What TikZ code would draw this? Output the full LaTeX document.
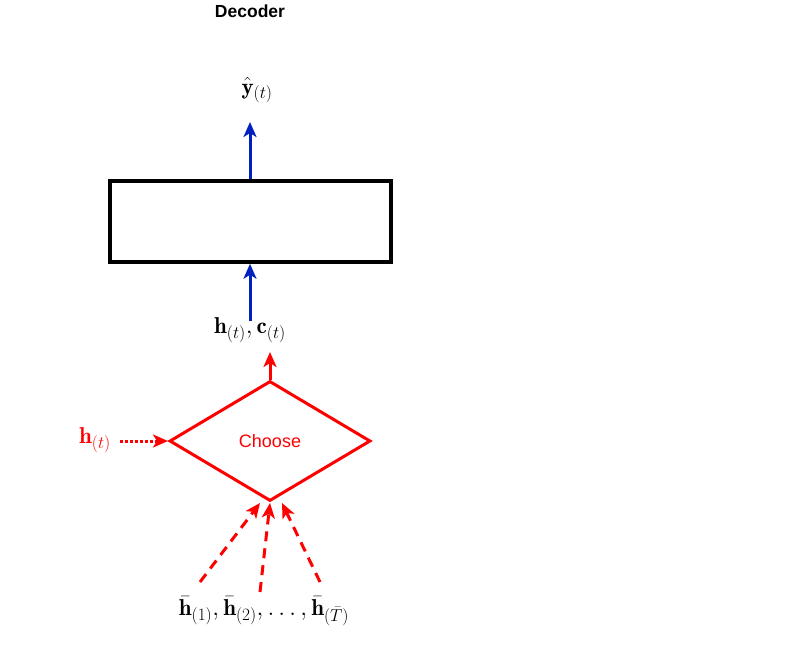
\documentclass[tikz,border=0pt]{standalone}
\usepackage{amsmath,amssymb}
\usepackage{fontspec}
\setsansfont{Liberation Sans}
\usetikzlibrary{arrows.meta,shapes.geometric,positioning}
\definecolor{decblue}{RGB}{0,32,192}
\definecolor{chred}{RGB}{255,0,0}
\tikzset{
  mathlbl/.style={font=\fontsize{23}{26}\selectfont, inner sep=0pt},
  bluearrow/.style={draw=decblue, line width=3pt, -{Stealth[length=15pt,width=13pt,inset=4pt]}},
  redarrow/.style={draw=chred, line width=3pt, -{Stealth[length=15pt,width=13pt,inset=4pt]}},
  reddash/.style={redarrow, dash pattern=on 10pt off 7pt},
  reddot/.style={redarrow, dash pattern=on 3pt off 2pt}
}
\begin{document}
\begin{tikzpicture}[x=1pt,y=-1pt]
   		\useasboundingbox (0,0) rectangle (790,651);
   		\node[font=\sffamily\bfseries\fontsize{17.5}{20}\selectfont] (title) at (250,11) {Decoder}; % title
   		\node[mathlbl] (yhat) at (257,90) {$\hat{\mathbf{y}}_{(t)}$}; % output
   		\node[draw, line width=3.5pt, minimum width=281pt, minimum height=81pt, inner sep=0pt] (cell) at (250.5,221.5) {}; % cell
   		\node[mathlbl] (hc) at (250,330) {$\mathbf{h}_{(t)},\mathbf{c}_{(t)}$}; % state
   		\node[diamond, draw=chred, line width=3pt, aspect=1.675, minimum width=201pt, minimum height=120pt, inner sep=0pt,
   		      text=chred, font=\sffamily\fontsize{18}{20}\selectfont] (choose) at (270,441) {Choose}; % choose
   		\node[mathlbl, text=chred] (ht) at (95,440) {$\mathbf{h}_{(t)}$}; % decoder state
   		\node[mathlbl] (hbar) at (264,611) {$\bar{\mathbf{h}}_{(1)},\bar{\mathbf{h}}_{(2)},\ldots,\bar{\mathbf{h}}_{(\bar{T})}$}; % encoder states
   		
   		\coordinate (yout) at (250,122);
   		\coordinate (hcin) at (250,321);
   		\coordinate (hcout) at (270,352);
   		\coordinate (htout) at (120,441);
   		\coordinate (s1) at (200,582); \coordinate (e1) at (260,503);
   		\coordinate (s2) at (260,592); \coordinate (e2) at (270,503);
   		\coordinate (s3) at (320,582); \coordinate (e3) at (282,503);
   		
   		\draw[bluearrow] (cell.north -| yout) -- (yout);
   		\draw[bluearrow] (hcin) -- (cell.south -| hcin);
   		\draw[redarrow] (choose.north) -- (hcout);
   		\draw[reddot] (htout) -- (choose.west);
   		\draw[reddash] (s1) -- (e1);
   		\draw[reddash] (s2) -- (e2);
   		\draw[reddash] (s3) -- (e3);
\end{tikzpicture}
\end{document}
